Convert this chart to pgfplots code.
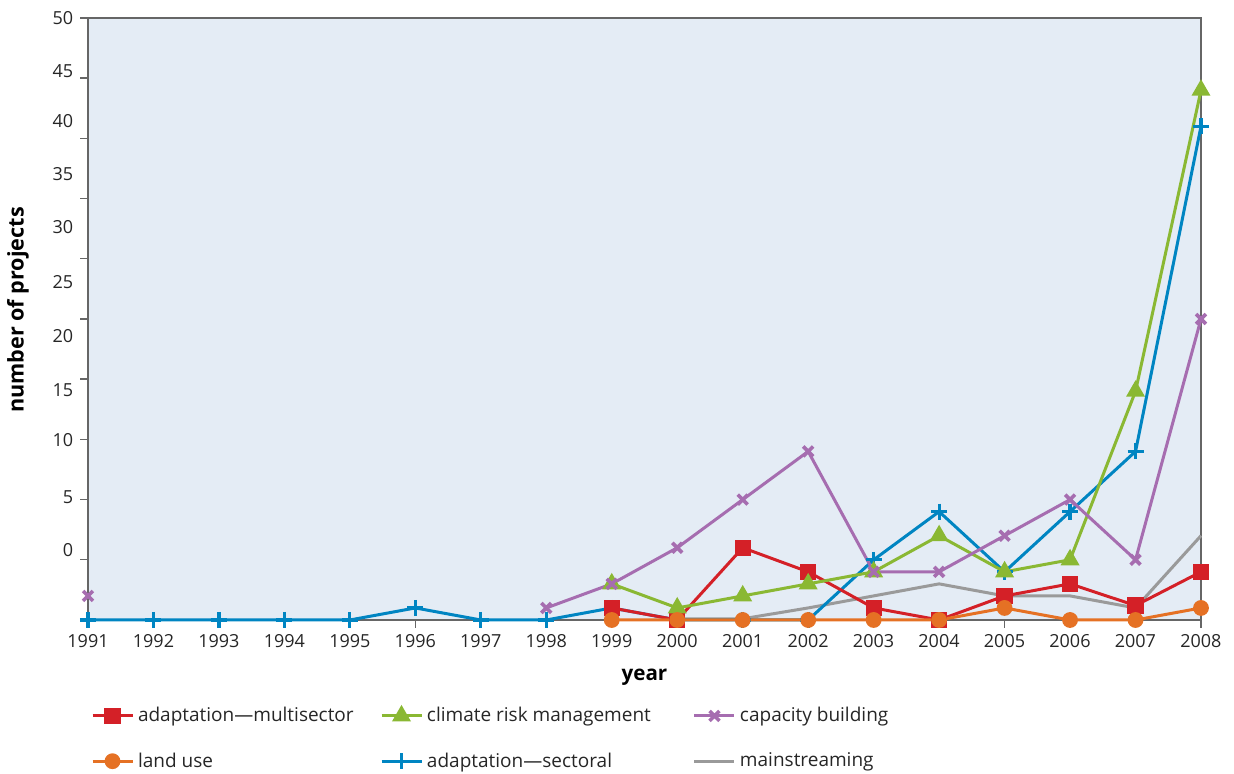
\documentclass[border=0pt]{standalone}
\usepackage{pgfplots}
\pgfplotsset{compat=1.18}
\usepackage{fontspec}
\setmainfont{Open Sans}
\definecolor{cred}{HTML}{D42027}
\definecolor{cgreen}{HTML}{8AB833}
\definecolor{cpurple}{HTML}{A66DB0}
\definecolor{corange}{HTML}{E57124}
\definecolor{cblue}{HTML}{0085C2}
\definecolor{cgray}{HTML}{9A9A9A}
\definecolor{cbg}{HTML}{E4ECF5}
\begin{document}
\fontsize{9.5pt}{11.5pt}\selectfont
\begin{tikzpicture}
\begin{axis}[name=ax, scale only axis, width=556.5pt, height=301pt,
  xmin=1991, xmax=2008, ymin=0, ymax=50, clip=false,
  axis background/.style={fill=cbg},
  axis line style={black!60, line width=0.8pt},
  xtick={1991,1992,...,2008},
  xticklabels={1991,1992,1993,1994,1995,1996,1997,1998,1999,2000,2001,2002,2003,2004,2005,2006,2007,2008},
  ytick={0,5,...,50}, yticklabels={},
  extra y ticks={5.8,10.2,14.95,19.1,23.6,28.1,32.6,37.0,41.4,45.6,50},
  extra y tick labels={0,5,10,15,20,25,30,35,40,45,50},
  extra y tick style={major tick length=0pt, yticklabel style={xshift=-4pt}},
  xtick pos=bottom, ytick pos=left,
  tick align=outside, major tick length=4pt,
  tick style={black!60, line width=0.7pt},
  tick label style={font=\fontsize{9pt}{11pt}\selectfont, text=black!85},
  every axis x label/.style={at={(axis description cs:0.5,-0.095)}, anchor=center, font=\fontsize{10.3pt}{12pt}\selectfont\bfseries},
  every axis y label/.style={at={(axis description cs:-0.0629,0.515)}, rotate=90, anchor=center, font=\fontsize{10.8pt}{12pt}\selectfont\bfseries},
  xlabel={year}, ylabel={number of projects},
  legend columns=3,
  legend cell align=left,
  legend style={at={(axis description cs:0.0027,-0.145)}, anchor=north west, draw=none, fill=none,
    inner sep=0pt, outer sep=0pt, nodes={inner sep=0pt, text=black!85}, row sep=14pt,
    /tikz/every odd column/.append style={column sep=2pt}},
  legend image code/.code={\draw[mark repeat=2,mark phase=2,#1] plot coordinates {(0pt,0pt) (10pt,0pt) (20pt,0pt)};},
  every axis plot/.append style={line width=1.5pt},
]
% background series (drawn first, legend added later)
\addplot[cgray, no marks, forget plot] coordinates {
 (2000,0.1) (2001,0.1) (2002,1) (2003,2) (2004,3) (2005,2) (2006,2) (2007,1) (2008,7)};
\addplot[cblue, mark=+, mark size=4pt, mark options={line width=1.6pt}, forget plot] coordinates {
 (1991,0) (1992,0) (1993,0) (1994,0) (1995,0) (1996,1) (1997,0) (1998,0) (1999,1) (2000,0) (2001,0) (2002,0) (2003,5) (2004,9) (2005,4) (2006,9) (2007,14) (2008,41)};
\addplot[cred, mark=square*, mark size=3.3pt, mark options={solid}] coordinates {
 (1999,1) (2000,0) (2001,6) (2002,4) (2003,1) (2004,0) (2005,2) (2006,3) (2007,1.2) (2008,4)};
\addlegendentry{\makebox[121pt][l]{adaptation—multisector}}
\addplot[cgreen, mark=triangle*, mark size=4pt] coordinates {
 (1999,3) (2000,1) (2001,2) (2002,3) (2003,4) (2004,7) (2005,4) (2006,5) (2007,19) (2008,44)};
\addlegendentry{\makebox[133pt][l]{climate risk management}}
\addplot[cpurple, mark=x, mark size=3.5pt, mark options={line width=1.8pt}] coordinates {
 (1998,1) (1999,3) (2000,6) (2001,10) (2002,14) (2003,4) (2004,4) (2005,7) (2006,10) (2007,5) (2008,25)};
\addlegendentry{capacity building}
\addplot[corange, mark=*, mark size=3.2pt] coordinates {
 (1999,0) (2000,0) (2001,0) (2002,0) (2003,0) (2004,0) (2005,1) (2006,0) (2007,0) (2008,1)};
\addlegendentry{\makebox[121pt][l]{land use}}
\addlegendimage{cblue, line width=1.5pt, mark=+, mark size=4pt, mark options={line width=1.6pt}}
\addlegendentry{\makebox[133pt][l]{adaptation—sectoral}}
\addlegendimage{cgray, line width=1.5pt, no marks}
\addlegendentry{mainstreaming}
\addplot[cpurple, only marks, mark=x, mark size=3.5pt, mark options={line width=1.8pt}, forget plot] coordinates {(1991,2)};
\end{axis}
\path[use as bounding box] ([xshift=-44pt,yshift=-77pt]ax.south west) rectangle ([xshift=16.5pt,yshift=9pt]ax.north east);
\end{tikzpicture}
\end{document}
